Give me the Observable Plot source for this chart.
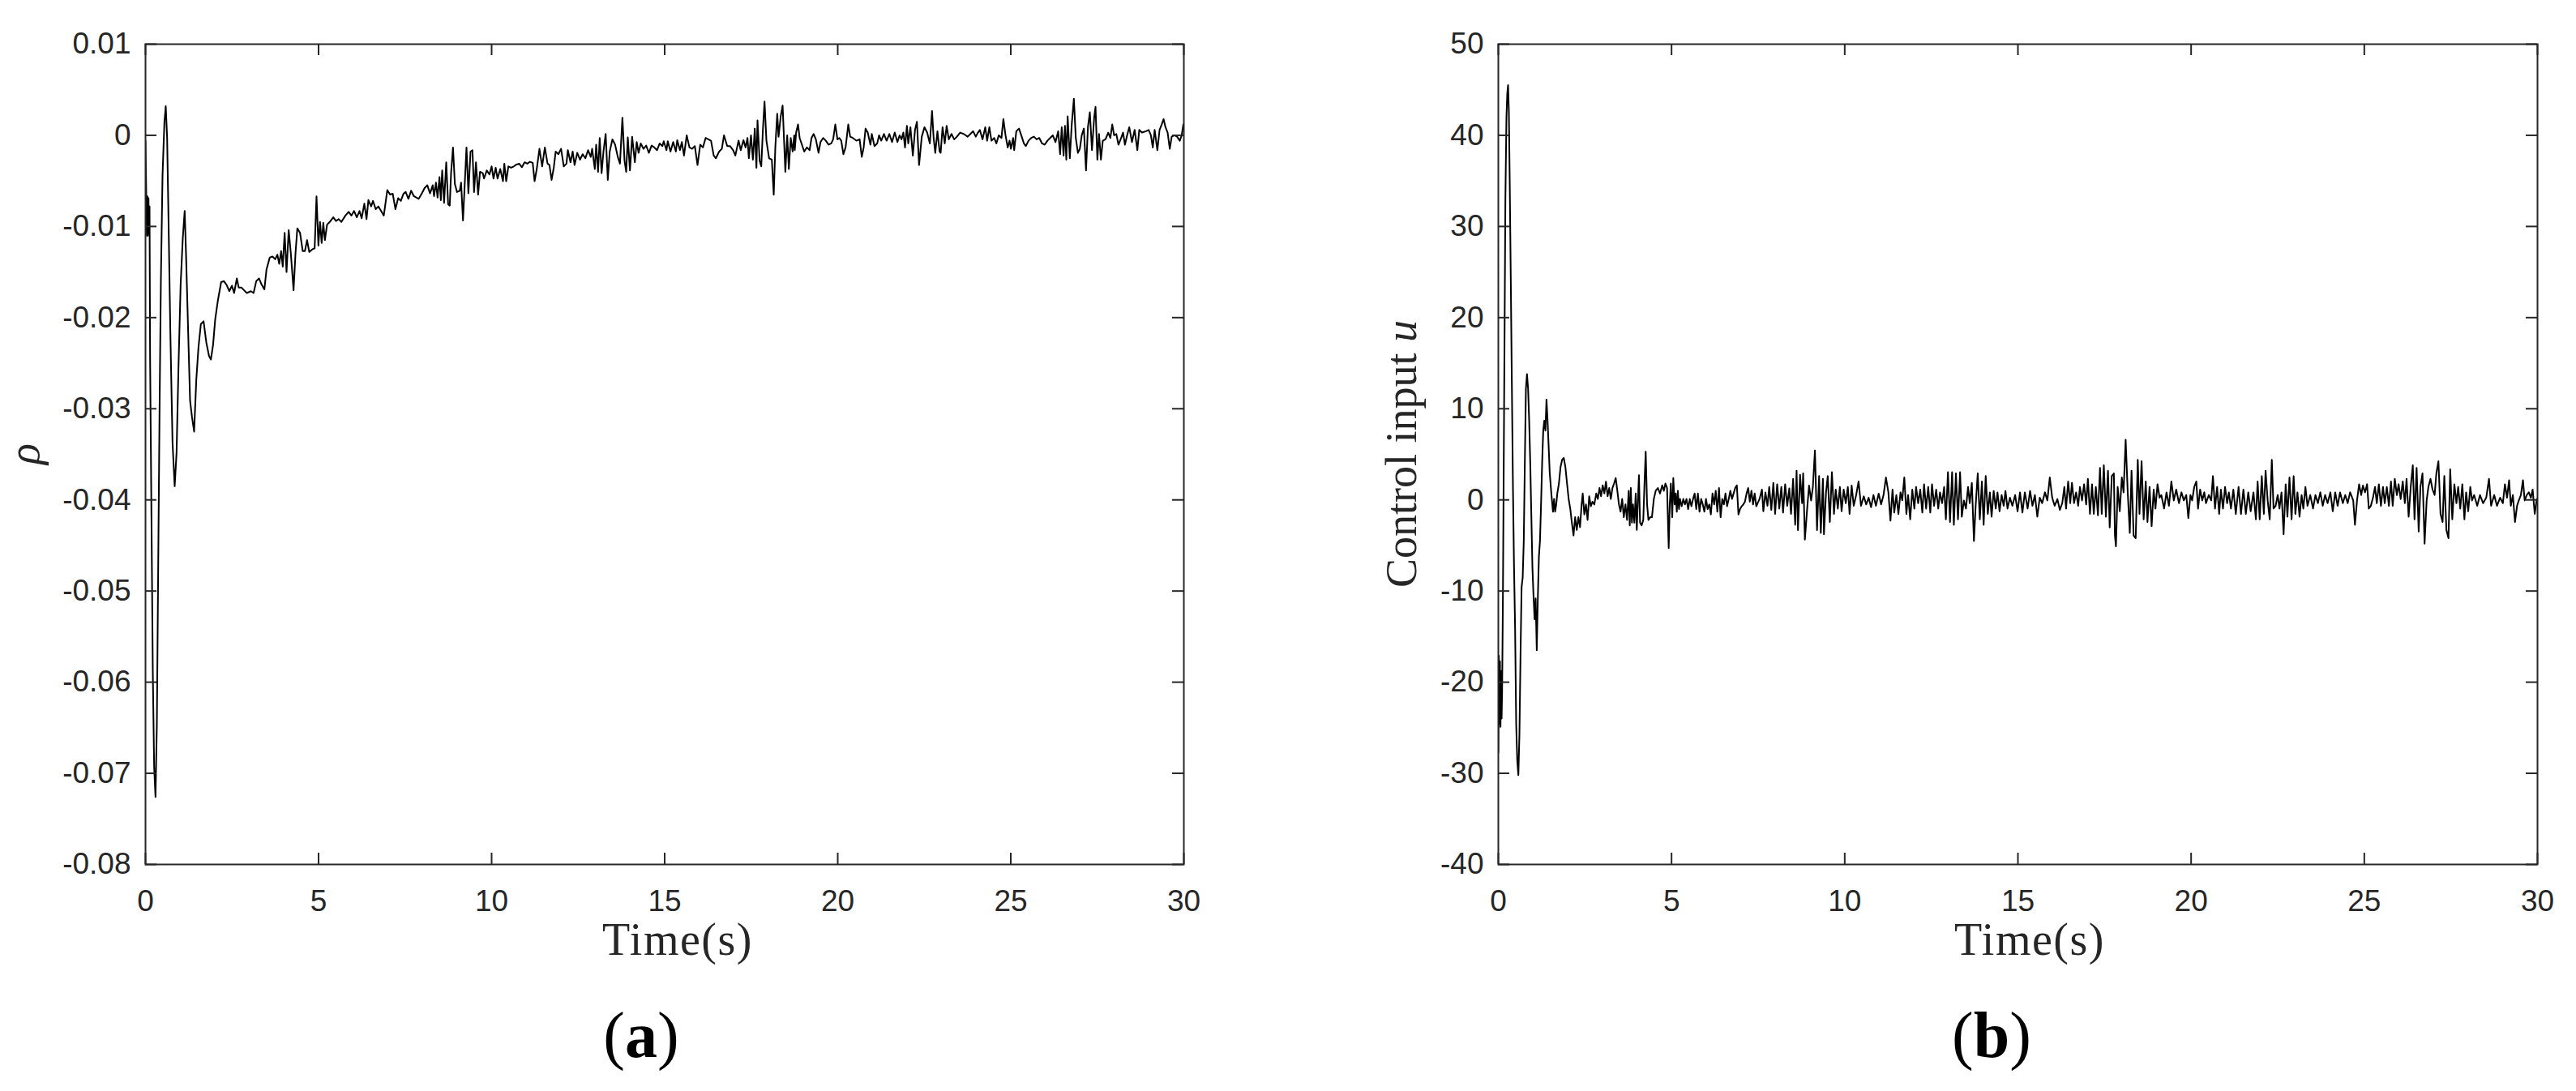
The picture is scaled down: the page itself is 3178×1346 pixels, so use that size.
<!DOCTYPE html>
<html>
<head>
<meta charset="utf-8">
<script src="https://cdn.jsdelivr.net/npm/d3@7"></script>
<script src="https://cdn.jsdelivr.net/npm/@observablehq/plot@0.6"></script>
<style>
  html, body { margin: 0; padding: 0; background: #fff; }
  #wrap { position: relative; width: 3178px; height: 1346px; overflow: hidden; background: #fff; }
  .panel { position: absolute; top: 0; }
</style>
</head>
<body>
<div id="wrap">
  <div id="pa" class="panel" style="left:0px"></div>
  <div id="pb" class="panel" style="left:1589px"></div>
</div>
<script>
// ---------- data ----------
const timeTicks = [0, 5, 10, 15, 20, 25, 30];
const rhoTicks = [0.01, 0, -0.01, -0.02, -0.03, -0.04, -0.05, -0.06, -0.07, -0.08];
const uTicks = [50, 40, 30, 20, 10, 0, -10, -20, -30, -40];

// panel (a): [time (s), rho]
const rhoPoints = [
[0,-0.0006],[0.023,-0.0067],[0.039,-0.011],[0.055,-0.0067],[0.07,-0.011],[0.086,-0.0069],[0.101,-0.0107],[0.117,-0.0078],
[0.133,-0.0245],[0.172,-0.0417],[0.211,-0.0589],[0.25,-0.0693],[0.289,-0.0726],[0.328,-0.0647],[0.367,-0.0474],[0.406,-0.0302],
[0.445,-0.0158],[0.492,-0.0044],[0.546,0.0014],[0.585,0.0032],[0.625,-0.0003],[0.664,-0.009],[0.718,-0.0216],[0.781,-0.0337],
[0.843,-0.0385],[0.898,-0.0348],[0.952,-0.0256],[1.015,-0.0164],[1.077,-0.0113],[1.132,-0.0083],[1.171,-0.013],[1.233,-0.0216],
[1.288,-0.0291],[1.343,-0.0309],[1.405,-0.0325],[1.468,-0.0268],[1.53,-0.0233],[1.6,-0.0207],[1.678,-0.0204],[1.756,-0.0227],
[1.834,-0.0242],[1.889,-0.0246],[1.952,-0.023],[2.014,-0.0202],[2.092,-0.0181],[2.186,-0.0161],[2.264,-0.016],[2.342,-0.0164],
[2.42,-0.0171],[2.498,-0.0165],[2.56,-0.0173],[2.639,-0.0157],[2.693,-0.0167],[2.771,-0.0167],[2.849,-0.017],[2.927,-0.0173],
[3.044,-0.0171],[3.123,-0.0173],[3.2,-0.016],[3.279,-0.0157],[3.357,-0.0164],[3.435,-0.0169],[3.497,-0.0147],[3.591,-0.0134],
[3.669,-0.0133],[3.747,-0.0136],[3.81,-0.0131],[3.864,-0.0141],[3.919,-0.0127],[3.966,-0.0144],[4.02,-0.0107],[4.075,-0.015],
[4.137,-0.0104],[4.2,-0.013],[4.278,-0.017],[4.333,-0.013],[4.387,-0.0102],[4.465,-0.0107],[4.543,-0.0127],[4.606,-0.0127],
[4.668,-0.0115],[4.731,-0.0128],[4.824,-0.0125],[4.887,-0.0124],[4.941,-0.0067],[4.996,-0.0121],[5.043,-0.0095],[5.09,-0.0118],
[5.137,-0.0096],[5.183,-0.0115],[5.246,-0.0098],[5.324,-0.0095],[5.425,-0.009],[5.503,-0.0094],[5.582,-0.0092],[5.66,-0.0095],
[5.777,-0.0088],[5.87,-0.0084],[5.948,-0.0088],[6.027,-0.0083],[6.105,-0.009],[6.183,-0.0083],[6.245,-0.0091],[6.323,-0.0075],
[6.386,-0.0092],[6.44,-0.0071],[6.518,-0.0078],[6.573,-0.0072],[6.651,-0.0081],[6.729,-0.0078],[6.807,-0.0083],[6.885,-0.0088],
[6.987,-0.006],[7.065,-0.0065],[7.143,-0.0064],[7.221,-0.0081],[7.299,-0.0069],[7.377,-0.0072],[7.455,-0.0064],
[7.518,-0.00622],[7.596,-0.00697],[7.674,-0.00608],[7.752,-0.00667],[7.893,-0.00697],[7.986,-0.00637],[8.064,-0.00578],[8.143,-0.00548],
[8.221,-0.00637],[8.299,-0.00548],[8.338,-0.00667],[8.392,-0.00519],[8.439,-0.00682],[8.494,-0.00459],[8.533,-0.00711],[8.572,-0.00385],
[8.627,-0.00741],[8.689,-0.00296],[8.744,-0.00756],[8.79,-0.00771],[8.829,-0.00415],[8.884,-0.00133],[8.939,-0.00534],[9.001,-0.00622],
[9.079,-0.00608],[9.118,-0.00519],[9.173,-0.00934],[9.22,-0.00563],[9.274,-0.00133],[9.329,-0.00637],[9.391,-0.00178],[9.446,-0.00163],
[9.493,-0.00622],[9.548,-0.00296],[9.61,-0.00652],[9.665,-0.004],[9.743,-0.00415],[9.782,-0.00474],[9.86,-0.00385],[9.938,-0.0043],
[10.0,-0.00341],[10.055,-0.00474],[10.118,-0.00356],[10.172,-0.00474],[10.25,-0.0037],[10.328,-0.00504],[10.367,-0.00311],[10.422,-0.00504],
[10.484,-0.00341],[10.563,-0.00356],[10.641,-0.00341],[10.719,-0.0032],[10.797,-0.00311],[10.875,-0.0035],[10.953,-0.00296],[11.031,-0.00311],
[11.109,-0.0029],[11.187,-0.00302],[11.242,-0.00504],[11.304,-0.0037],[11.382,-0.00148],[11.46,-0.00341],[11.538,-0.00133],[11.616,-0.00311],
[11.671,-0.00326],[11.733,-0.00489],[11.796,-0.00356],[11.851,-0.00178],[11.929,-0.00207],[12.007,-0.00148],[12.085,-0.00341],[12.163,-0.00311],
[12.202,-0.00163],[12.28,-0.00296],[12.342,-0.00178],[12.397,-0.00326],[12.475,-0.00192],[12.553,-0.00267],[12.631,-0.00207],[12.709,-0.00252],
[12.787,-0.00163],[12.865,-0.00237],[12.904,-0.00148],[12.982,-0.0037],[13.021,-0.00103],[13.076,-0.004],[13.123,-0.00029],[13.178,-0.00415],
[13.232,-0.00178],[13.295,0.00015],[13.357,-0.00489],[13.412,-0.00178],[13.49,-0.00044],[13.568,-0.00103],[13.646,-0.00237],[13.708,-0.00311],
[13.779,0.00193],[13.841,-0.00281],[13.888,-0.004],[13.935,-0.00023],[13.997,-0.00385],[14.06,-0.00015],[14.138,-0.00296],[14.192,-0.00074],
[14.247,-0.00192],[14.309,-0.00089],[14.388,-0.00148],[14.466,-0.00112],[14.544,-0.00192],[14.622,-0.00112],[14.7,-0.00133],[14.778,-0.00163],
[14.856,-0.00089],[14.934,-0.00118],[14.973,-0.00065],[15.051,-0.00163],[15.09,-0.00065],[15.168,-0.00178],[15.246,-0.00074],[15.324,-0.00178],
[15.363,-0.00053],[15.441,-0.00163],[15.496,-0.00074],[15.559,-0.00222],[15.637,0.0],[15.715,-0.00133],[15.793,-0.00148],[15.871,-0.00118],
[15.949,-0.00326],[16.027,-0.00103],[16.105,-0.00133],[16.183,-0.00029],[16.261,-0.00044],[16.339,-0.00059],[16.417,-0.00222],[16.48,-0.00252],
[16.573,-0.00178],[16.652,-0.00148],[16.714,0.0],[16.808,-0.00118],[16.886,-0.00118],[16.979,-0.00163],[17.042,-0.00222],[17.135,-0.00059],
[17.198,-0.00163],[17.276,-0.00053],[17.338,-0.00133],[17.393,-0.00029],[17.432,-0.00252],[17.494,0.0],[17.549,-0.00267],[17.604,0.00074],
[17.651,-0.00356],[17.682,0.00163],[17.744,-0.00281],[17.791,-0.00341],[17.838,0.00059],[17.885,0.00371],[17.94,-0.00059],[18.018,-0.00252],
[18.096,-0.00267],[18.151,-0.00652],[18.197,-0.00133],[18.252,0.00238],[18.291,-0.00015],[18.353,0.00208],[18.408,0.00327],[18.463,-0.00178],
[18.486,-0.004],[18.541,0.0],[18.588,-0.0037],[18.642,-0.00029],[18.697,-0.00178],[18.744,0.0],
[18.759,-0.00163],[18.798,0.0003],[18.853,0.00119],[18.9,-0.00029],[18.954,-0.00089],[19.032,-0.00178],[19.11,-0.00133],[19.188,-0.00163],
[19.243,-0.00029],[19.305,0.00015],[19.368,-0.00044],[19.446,-0.00192],[19.501,-0.00074],[19.579,-0.00029],[19.657,-0.00059],[19.735,-0.00103],
[19.813,-0.00089],[19.868,-0.00044],[19.93,0.00119],[19.992,-0.00044],[20.047,-0.00029],[20.102,-0.00059],[20.164,-0.00207],[20.227,-0.00133],
[20.305,0.00119],[20.359,-0.00015],[20.437,-0.00029],[20.539,-0.00059],[20.633,-0.00044],[20.695,-0.00237],[20.75,-0.00133],[20.804,0.00074],
[20.867,0.0003],[20.945,-0.00103],[20.984,0.00015],[21.062,-0.00118],[21.14,-0.00089],[21.195,0.0],[21.257,-0.00059],[21.335,0.00015],
[21.413,-0.00059],[21.491,0.00015],[21.569,-0.00074],[21.647,0.0003],[21.725,-0.00074],[21.788,0.0],[21.843,-0.00044],[21.897,0.0003],
[21.944,-0.00133],[21.999,0.00104],[22.038,-0.00089],[22.1,0.00089],[22.17,-0.00222],[22.233,0.00059],[22.288,0.00149],[22.35,-0.00326],
[22.428,-0.00015],[22.506,0.00089],[22.584,0.0003],[22.662,-0.00089],[22.725,0.00267],[22.771,-0.00029],[22.818,-0.00192],[22.881,0.00045],
[22.943,-0.00178],[22.974,-0.00192],[23.029,0.00089],[23.092,-0.00089],[23.146,0.00104],[23.209,-0.00044],[23.287,0.00015],[23.365,-0.00044],
[23.443,-0.00015],[23.537,0.0003],[23.638,0.00015],[23.755,-0.00015],[23.833,0.00015],[23.911,0.00045],[23.989,-0.00015],[24.052,0.0003],
[24.106,0.00059],[24.184,-0.00044],[24.262,0.00089],[24.317,-0.00059],[24.38,0.00089],[24.442,-0.00059],[24.52,-0.00029],[24.583,-0.00089],
[24.653,0.0],[24.731,-0.00029],[24.786,0.00178],[24.848,0.0],[24.911,-0.00133],[24.965,-0.00059],[25.004,-0.00148],[25.067,-0.00029],
[25.098,-0.00163],[25.16,0.00045],[25.238,0.00074],[25.316,-0.00015],[25.379,-0.00089],[25.434,-0.00118],[25.512,-0.00059],[25.59,-0.00029],
[25.668,-0.00015],[25.746,-0.00044],[25.824,-0.00029],[25.902,-0.00089],[25.98,-0.00103],[26.058,-0.00059],[26.136,-0.00029],[26.214,0.0],
[26.292,-0.00074],[26.37,0.00045],[26.425,-0.00207],[26.472,0.00089],[26.526,-0.00222],[26.565,0.00104],[26.604,-0.00267],[26.643,0.00208],
[26.706,-0.00252],[26.761,0.00119],[26.823,0.00401],[26.878,-0.00029],[26.94,-0.00192],[26.995,-0.00148],[27.05,0.0],[27.112,0.00074],
[27.174,-0.00385],[27.229,0.00089],[27.284,0.00252],[27.346,-0.00163],[27.409,0.00193],[27.448,0.00312],[27.502,-0.00267],[27.549,0.00015],
[27.604,-0.00267],[27.658,-0.00059],[27.737,-0.00044],[27.815,0.0003],[27.877,-0.00029],[27.932,0.00119],[27.986,0.0],[28.049,0.00015],
[28.111,-0.00103],[28.189,-0.00029],[28.244,0.0003],[28.298,-0.00103],[28.361,0.0],[28.423,0.00089],[28.501,-0.00074],[28.579,0.00059],
[28.657,-0.00163],[28.712,0.00059],[28.79,0.0003],[28.907,0.00045],[28.985,0.00059],[29.048,0.0],[29.103,-0.00133],[29.157,0.00059],
[29.235,-0.00163],[29.298,0.00059],[29.36,0.00119],[29.415,0.00178],[29.47,0.00089],[29.532,0.0003],[29.594,-0.00148],[29.649,-0.00015],
[29.727,0.0],[29.805,-0.00015],[29.883,-0.00059],[29.938,0.0],[29.985,0.00119]
];

// panel (b): [time (s), control input u]
const uPoints = [
[0,-27.7],[0.016,-17.1],[0.031,-24.6],[0.047,-17.7],[0.062,-24.9],[0.078,-18.8],[0.094,-24.0],[0.109,-21.1],[0.133,-10.2],[0.156,4.1],
[0.18,18.5],[0.203,32.9],[0.234,42.0],[0.258,44.6],[0.281,45.5],[0.304,42.6],[0.328,35.2],[0.359,24.2],[0.39,12.8],[0.422,1.3],
[0.453,-7.4],[0.484,-14.2],[0.515,-24.6],[0.546,-28.6],[0.578,-30.2],[0.609,-25.7],[0.64,-17.1],[0.671,-9.6],[0.703,-8.5],[0.734,-4.5],
[0.765,4.1],[0.796,12.2],[0.827,13.8],[0.859,12.2],[0.89,8.7],[0.921,4.1],[0.952,-1.6],[0.984,-7.4],[1.015,-10.5],[1.046,-13.1],
[1.077,-10.8],[1.109,-16.5],[1.14,-10.8],[1.171,-6.2],[1.202,-4.5],[1.233,-0.5],[1.265,4.1],[1.296,7.6],[1.327,8.7],[1.358,7.6],
[1.39,11.0],[1.421,8.7],[1.452,5.9],[1.483,3.0],[1.53,0.7],[1.577,-1.3],[1.608,0.1],[1.639,-1.3],[1.671,-0.5],[1.702,0.7],
[1.749,1.8],[1.795,3.6],[1.842,4.4],[1.889,4.6],[1.936,3.6],[1.983,1.8],[2.03,0.1],[2.077,-1.0],[2.123,-2.5],[2.17,-3.9],
[2.217,-1.9],[2.264,-3.3],[2.311,-1.9],[2.358,-3.0],[2.404,-0.5],[2.436,0.7],[2.482,-1.6],[2.529,-0.5],[2.576,-2.2],[2.623,0.4],
[2.67,-0.7],[2.717,-0.2],[2.771,-0.5],[2.826,0.7],[2.873,0.1],[2.92,1.3],[2.966,0.4],[3.013,1.6],[3.06,0.7],[3.107,2.0],
[3.154,0.4],[3.201,1.3],[3.247,0.1],[3.294,1.3],[3.341,1.8],[3.388,2.4],[3.435,1.0],[3.482,-0.5],[3.528,-1.3],[3.575,0.1],
[3.622,-1.9],[3.669,-0.5],[3.716,-2.2],[3.763,1.0],[3.794,-2.8],[3.825,1.3],[3.856,-2.5],[3.888,-0.5],[3.927,-2.5],[3.966,0.7],
[3.997,-3.3],[4.028,-0.2],[4.059,2.7],[4.091,-2.5],[4.137,-2.8],[4.184,-2.2],[4.215,1.3],[4.254,5.3],[4.294,-0.5],[4.333,-2.2],
[4.387,-1.9],[4.434,-1.9],[4.489,0.1],[4.543,1.0],[4.606,1.3],[4.668,0.7],[4.731,1.6],[4.778,1.0],[4.824,1.8],[4.871,1.3],
[4.918,-5.3],[4.949,-0.5],[4.98,1.8],[5.02,-1.9],[5.051,2.4],[5.09,-0.5],[5.121,0.7],[5.152,-1.3],[5.183,1.0],[5.215,-1.0],
[5.246,0.1],[5.293,-0.7],[5.34,0.1],[5.386,-0.5],[5.433,0.1],[5.48,-1.0],[5.527,0.1],[5.574,-0.7],[5.621,0.1],[5.667,0.7],
[5.714,-1.0],[5.761,0.7],[5.808,-1.3],[5.855,0.1],[5.902,-0.5],[5.948,-1.3],[5.995,0.1],[6.042,-1.0],[6.089,-0.5],[6.136,-1.6],
[6.183,0.7],[6.23,-0.5],[6.276,1.0],[6.323,-1.3],[6.37,1.3],[6.417,-1.9],[6.464,0.1],[6.511,-0.5],[6.557,0.7],[6.604,-0.7],
[6.651,0.1],[6.698,1.0],[6.745,0.1],[6.792,0.7],[6.838,1.3],[6.885,1.6],[6.932,-1.6],[6.979,-1.0],[7.026,-0.7],[7.073,-0.5],
[7.119,-0.2],[7.166,0.7],[7.213,1.3],[7.26,-0.2],[7.307,1.0],[7.354,-0.5],[7.4,0.7],[7.447,-0.7],
[7.54,0.09],[7.61,1.13],[7.65,-1.25],[7.71,0.83],[7.77,-0.65],[7.82,1.42],[7.88,-1.10],[7.94,1.87],[7.99,-1.54],[8.05,1.72],
[8.11,-0.95],[8.17,1.42],[8.22,-1.39],[8.28,1.72],[8.34,-0.65],[8.40,1.27],[8.45,-1.54],[8.51,2.31],[8.57,-2.73],[8.61,3.20],
[8.65,-3.32],[8.71,2.76],[8.77,-0.36],[8.80,2.91],[8.85,-4.36],[8.91,-1.25],[8.97,1.57],[9.03,-0.06],[9.08,1.42],[9.14,5.43],
[9.20,-3.32],[9.26,2.61],[9.31,-3.62],[9.37,2.31],[9.40,-3.77],[9.46,0.83],[9.51,2.61],[9.57,-2.43],[9.63,3.05],[9.69,-1.54],
[9.74,1.13],[9.80,-0.95],[9.86,1.42],[9.91,-1.25],[9.97,1.13],[10.03,-0.36],[10.09,1.42],[10.14,-1.54],[10.20,1.57],[10.26,-0.65],
[10.33,0.53],[10.40,2.02],[10.47,-0.65],[10.55,0.39],[10.62,-0.50],[10.69,0.24],[10.76,-0.80],[10.83,0.53],[10.90,-0.65],[10.98,0.68],
[11.05,-0.50],[11.12,0.53],[11.19,2.46],[11.26,0.83],[11.32,-2.28],[11.38,1.13],[11.43,-1.39],[11.49,0.53],[11.55,-1.54],[11.61,0.83],
[11.66,-0.06],[11.72,2.46],[11.78,-1.54],[11.83,0.53],[11.89,-2.14],[11.95,1.13],[12.01,-0.95],[12.06,1.42],[12.12,-0.36],[12.18,1.13],
[12.24,-1.39],[12.29,1.72],[12.35,-0.95],[12.41,1.42],[12.47,-1.39],[12.52,1.72],[12.58,-0.65],[12.64,1.13],[12.70,-0.95],[12.75,0.83],
[12.81,-0.36],[12.87,1.42],[12.92,-2.14],[12.98,3.05],[13.04,-2.43],[13.10,3.05],[13.15,-2.73],[13.21,2.91],[13.27,-2.14],[13.33,3.05],
[13.38,-1.84],[13.44,-0.06],[13.50,-0.95],[13.56,1.42],[13.61,-0.36],[13.67,1.87],[13.73,-4.51],[13.78,-0.65],[13.84,2.91],[13.90,-2.14],
[13.96,2.02],[14.01,-2.73],[14.07,2.61],[14.13,-1.54],[14.19,0.83],[14.24,-1.84],[14.30,0.98],[14.36,-0.95],[14.41,0.83],[14.47,-1.25],
[14.53,0.53],[14.59,-0.65],[14.64,0.98],[14.70,-0.95],[14.77,0.24],[14.84,-0.65],[14.92,0.53],[14.99,-1.25],[15.06,0.83],[15.13,-1.39],
[15.20,0.83],[15.28,-0.95],[15.35,0.98],[15.42,-0.65],[15.49,0.53],[15.56,-1.84],[15.63,0.24],[15.70,-0.36],[15.78,0.83],[15.85,-0.06],
[15.92,2.46],[15.99,0.24],[16.06,-0.65],[16.14,0.09],[16.21,-1.10],[16.28,-0.36],[16.34,1.42],[16.39,-0.95],[16.45,2.02],[16.51,-0.36],
[16.56,1.87],[16.62,-0.36],[16.68,0.83],[16.74,-0.65],[16.79,1.42],[16.85,-0.06],[16.91,1.72],[16.97,-0.50],[17.02,2.31],[17.08,-1.54],
[17.14,1.72],[17.19,-1.54],[17.25,1.42],[17.31,-1.69],[17.37,3.50],[17.42,-1.54],[17.48,3.80],[17.54,-1.84],[17.60,3.20],[17.65,-3.03],
[17.71,2.61],[17.77,2.91],[17.80,-3.91],[17.83,-5.10],[17.88,1.42],[17.94,-1.25],[18.00,2.46],[18.05,0.83],[18.11,6.61],[18.17,0.83],
[18.23,-3.62],[18.28,3.20],[18.34,-3.91],[18.40,-4.21],[18.46,4.39],[18.51,-1.54],[18.57,4.24],[18.63,-2.14],[18.69,2.02],[18.74,-2.43],
[18.80,1.42],[18.86,-2.88],[18.92,1.13],[18.97,-0.95],[19.03,1.72],[19.09,0.24],[19.14,0.53],[19.22,-0.95],[19.29,0.83],[19.36,-0.65],
[19.43,2.02],[19.50,-0.06],[19.57,1.13],[19.65,-0.36],[19.72,0.83],[19.79,-0.06],[19.86,0.53],[19.92,-1.99],[19.98,0.53],[20.03,-0.06],
[20.09,1.42],[20.15,2.02],[20.20,-0.95],[20.26,1.13],[20.32,-0.06],[20.38,0.83],[20.43,-0.36],[20.51,0.53],[20.58,-0.06],[20.63,2.61],
[20.69,-0.95],[20.75,1.42],[20.81,-1.54],[20.86,1.13],[20.92,-0.95],[20.98,1.42],[21.04,-0.36],[21.09,0.83],[21.15,-0.95],[21.22,1.13],
[21.29,-1.54],[21.37,1.42],[21.44,-1.54],[21.51,1.13],[21.58,-1.54],[21.65,0.83],[21.72,-1.25],[21.80,0.83],[21.87,-2.14],[21.92,2.02],
[21.98,-2.14],[22.04,2.61],[22.10,-1.54],[22.15,3.20],[22.21,-0.06],[22.27,-2.14],[22.33,4.39],[22.38,-0.95],[22.44,-0.65],[22.50,0.53],
[22.55,-0.95],[22.61,0.83],[22.67,-3.77],[22.73,1.72],[22.78,-1.84],[22.84,2.46],[22.90,-2.14],[22.96,2.61],[23.01,-1.54],[23.07,0.83],
[23.13,-1.84],[23.19,0.53],[23.24,-0.95],[23.30,1.42],[23.36,-0.65],[23.44,0.53],[23.52,-0.95],[23.59,0.53],[23.66,-0.36],[23.73,0.83],
[23.80,-0.65],[23.87,0.53],[23.94,-0.36],[24.02,0.83],[24.09,-1.25],[24.16,0.83],[24.23,-0.65],[24.30,0.83],[24.38,-0.36],[24.45,0.53],
[24.52,-0.36],[24.59,0.83],[24.68,-0.06],[24.73,-2.73],[24.79,-0.06],[24.85,1.72],[24.91,0.53],[24.96,1.57],[25.02,0.83],[25.08,1.72],
[25.13,-0.95],[25.19,-0.65],[25.25,0.24],[25.31,1.42],[25.36,-0.36],[25.42,1.72],[25.48,-0.65],[25.54,1.42],[25.59,-0.36],[25.65,1.42],
[25.71,-0.65],[25.77,2.02],[25.82,-0.65],[25.88,2.31],[25.94,0.53],[25.99,1.72],[26.05,0.09],[26.11,2.02],[26.17,-0.36],[26.22,2.31],
[26.28,-1.84],[26.34,1.42],[26.40,3.80],[26.45,-2.14],[26.51,3.50],[26.57,-3.47],[26.62,1.42],[26.68,2.91],[26.74,-4.80],[26.80,-0.06],
[26.85,1.42],[26.91,2.31],[26.97,1.13],[27.03,0.53],[27.08,2.91],[27.14,4.24],[27.20,-1.54],[27.26,-2.43],[27.31,2.61],[27.37,-3.32],
[27.43,-4.21],[27.48,3.35],[27.54,-2.14],[27.60,1.72],[27.66,-0.36],[27.71,1.42],[27.77,-0.95],[27.83,1.72],[27.89,-2.14],[27.94,0.83],
[28.00,-1.25],[28.06,1.42],[28.11,-0.06],[28.17,0.53],[28.26,-0.65],[28.34,0.53],[28.43,-0.36],[28.52,0.24],[28.60,2.31],[28.66,-0.65],
[28.75,0.53],[28.83,-0.65],[28.92,0.24],[29.00,-0.36],[29.06,1.72],[29.12,0.24],[29.18,2.16],[29.23,-0.65],[29.29,0.53],[29.35,-2.43],
[29.41,-0.65],[29.46,-0.06],[29.52,0.53],[29.58,2.16],[29.63,-0.06],[29.69,0.53],[29.75,0.83],[29.81,0.24],[29.86,1.13],[29.92,-1.54],
[29.98,0.09]
];

// ---------- drawing ----------
const INK = "#262626";
const SANS = "'Liberation Sans', Arial, Helvetica, sans-serif";
const SERIF = "'Liberation Serif', 'Times New Roman', serif";
const num = d => (d === 0 ? "0" : String(d));

function panel({points, yDomain, yTicks, marginLeft, marginRight}) {
  const W = 1589, H = 1346, mt = 54, mb = H - 1066;
  const fw = W - marginLeft - marginRight, fh = H - mt - mb;
  const data = points.map(([t, v]) => ({t, v}));
  return Plot.plot({
    width: W, height: H,
    marginLeft, marginRight, marginTop: mt, marginBottom: mb,
    style: {background: "white", fontFamily: SANS, overflow: "visible"},
    x: {domain: [0, 30]},
    y: {domain: yDomain},
    marks: [
      Plot.line(data, {x: "t", y: "v", stroke: "#000", strokeWidth: 2, clip: true}),
      Plot.tickY(yTicks, {y: d => d, stroke: INK, strokeWidth: 2, insetRight: fw - 14}),
      Plot.tickY(yTicks, {y: d => d, stroke: INK, strokeWidth: 2, insetLeft: fw - 14}),
      Plot.tickX(timeTicks, {x: d => d, stroke: INK, strokeWidth: 2, insetTop: fh - 14}),
      Plot.tickX(timeTicks, {x: d => d, stroke: INK, strokeWidth: 2, insetBottom: fh - 14}),
      Plot.frame({stroke: INK, strokeWidth: 2}),
      Plot.axisX(timeTicks, {tickSize: 0, tickPadding: 31, tickFormat: num, fontSize: 37, fill: INK, label: null}),
      Plot.axisY(yTicks, {tickSize: 0, tickPadding: 18, tickFormat: num, fontSize: 37, fill: INK, label: null})
    ]
  });
}

const a = panel({points: rhoPoints, yDomain: [-0.08, 0.01], yTicks: rhoTicks, marginLeft: 179, marginRight: 129});
const b = panel({points: uPoints, yDomain: [-40, 50], yTicks: uTicks, marginLeft: 259, marginRight: 48});
document.getElementById("pa").appendChild(a);
document.getElementById("pb").appendChild(b);

function addLabels(svgNode, {cx, ylabX, ylab, capX, letter}) {
  const s = d3.select(svgNode);
  s.append("text").attr("x", cx).attr("y", 1178).attr("text-anchor", "middle")
    .attr("font-family", SERIF).attr("font-size", 56).attr("letter-spacing", 1.5)
    .attr("fill", INK).text("Time(s)");
  const yl = s.append("text").attr("transform", `translate(${ylabX},560) rotate(-90)`)
    .attr("text-anchor", "middle").attr("font-family", SERIF).attr("font-size", 54).attr("fill", INK);
  ylab(yl);
  const c = s.append("text").attr("x", capX).attr("y", 1304).attr("text-anchor", "middle")
    .attr("font-family", SERIF).attr("font-size", 80).attr("fill", "#000");
  c.append("tspan").text("(");
  c.append("tspan").attr("font-weight", "bold").text(letter);
  c.append("tspan").text(")");
}
addLabels(a, {cx: 836, ylabX: 48, capX: 791, letter: "a",
  ylab: t => t.append("tspan").attr("font-style", "italic").text("ρ")});
addLabels(b, {cx: 915, ylabX: 158, capX: 868, letter: "b",
  ylab: t => { t.append("tspan").text("Control input "); t.append("tspan").attr("font-style", "italic").text("u"); }});
</script>
</body>
</html>
